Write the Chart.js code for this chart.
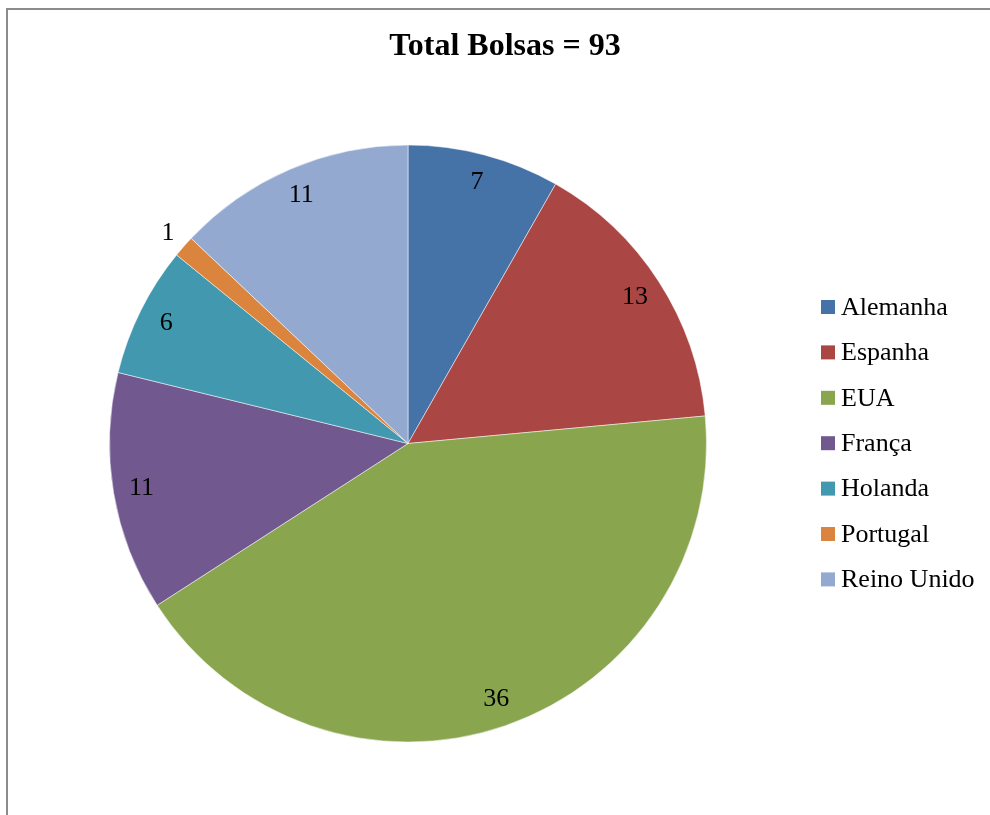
<!DOCTYPE html>
<html>
<head>
<meta charset="utf-8">
<script src="https://cdn.jsdelivr.net/npm/chart.js@4/dist/chart.umd.min.js"></script>
<style>
  html, body { margin: 0; padding: 0; background: #ffffff; overflow: hidden; }
  #wrap { position: relative; width: 990px; height: 815px; }
  #frame {
    position: absolute; left: 6px; top: 8px; width: 1200px; height: 1000px;
    border-left: 2px solid #8c8c8c; border-top: 2px solid #8c8c8c;
  }
  #chart { position: absolute; left: 0; top: 0; }
</style>
</head>
<body>
<div id="wrap">
  <div id="frame"></div>
  <canvas id="chart" width="990" height="815"></canvas>
</div>
<script>
const countries = ['Alemanha', 'Espanha', 'EUA', 'França', 'Holanda', 'Portugal', 'Reino Unido'];
const bolsas = [7, 13, 36, 11, 6, 1, 11];
const sliceColors = ['#4572A7', '#AA4643', '#89A54E', '#71588F', '#4198AF', '#DB843D', '#93A9CF'];
const chartTitle = 'Total Bolsas = 93';

const serif = "'Liberation Serif', 'Times New Roman', serif";

// title, legend and value labels drawn on top of the pie
const decorations = {
    id: 'decorations',
    afterDraw(chart) {
        const ctx = chart.ctx;
        ctx.save();

        ctx.fillStyle = '#000000';
        ctx.font = 'bold 32px ' + serif;
        ctx.textAlign = 'center';
        ctx.textBaseline = 'middle';
        ctx.fillText(chartTitle, 505, 47);

        // value labels
        ctx.font = '26px ' + serif;
        const arcs = chart.getDatasetMeta(0).data;
        arcs.forEach((arc, i) => {
            const p = arc.getProps(['x', 'y', 'startAngle', 'endAngle', 'outerRadius'], true);
            const mid = (p.startAngle + p.endAngle) / 2;
            const small = (p.endAngle - p.startAngle) < 0.1;
            const r = p.outerRadius * (small ? 1.07 : 0.905);
            ctx.fillText(String(bolsas[i]), p.x + Math.cos(mid) * r, p.y + Math.sin(mid) * r);
        });

        // legend
        ctx.textAlign = 'left';
        const lx = 821, ly0 = 307, step = 45.4;
        countries.forEach((name, i) => {
            const y = ly0 + i * step;
            ctx.fillStyle = sliceColors[i];
            ctx.fillRect(lx, y - 7, 14, 14);
            ctx.fillStyle = '#000000';
            ctx.fillText(name, lx + 20, y + 1);
        });

        ctx.restore();
    }
};

new Chart(document.getElementById('chart'), {
    type: 'pie',
    data: {
        labels: countries,
        datasets: [{
            data: bolsas,
            backgroundColor: sliceColors,
            borderColor: 'rgba(255,255,255,0.5)',
            borderWidth: 1
        }]
    },
    options: {
        responsive: false,
        animation: false,
        layout: {
            padding: { left: 109, right: 283, top: 144, bottom: 72 }
        },
        plugins: {
            legend: { display: false },
            title: { display: false },
            tooltip: { enabled: false }
        }
    },
    plugins: [decorations]
});
</script>
</body>
</html>
